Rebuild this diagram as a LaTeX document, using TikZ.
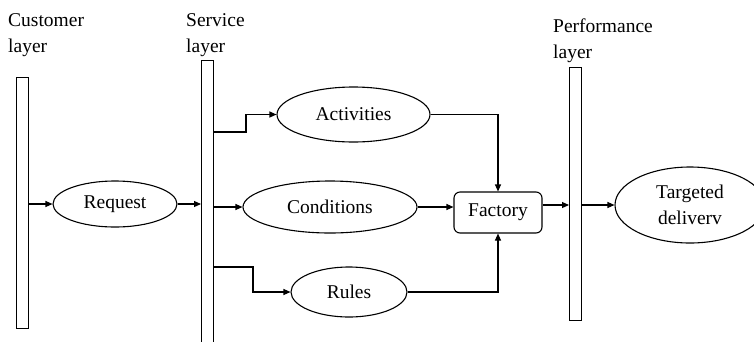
\documentclass[tikz,border=0pt]{standalone}
\usepackage{fontspec}
\setmainfont{Liberation Serif}
\usetikzlibrary{arrows.meta,shapes.geometric}
\begin{document}
\begin{tikzpicture}[x=1pt,y=-1pt,
  every node/.style={font=\fontsize{19.5}{26}\selectfont},
  lbl/.style={anchor=base west,inner sep=0},
  layerbar/.style={draw,rectangle,line width=1.1pt,inner sep=0,minimum width=12pt,anchor=north west},
  ell/.style={draw,ellipse,line width=1.1pt,inner sep=0},
  box/.style={draw,rectangle,rounded corners=6pt,line width=1.1pt,inner sep=0},
  arr/.style={line width=1.1pt,-{Triangle[length=7pt,width=6pt]}}
]
\useasboundingbox (0,0) rectangle (754,341);

% layer captions
\node[lbl] (c1) at (8,26) {Customer};
\node[lbl] (c2) at (8,52) {layer};
\node[lbl] (s1) at (186,26) {Service};
\node[lbl] (s2) at (186,52) {layer};
\node[lbl] (p1) at (553,32) {Performance};
\node[lbl] (p2) at (553,58) {layer};

% layer bars
\node[layerbar,minimum height=251pt] (cbar) at (16,77) {};
\node[layerbar,minimum height=290pt] (sbar) at (201,60) {};
\node[layerbar,minimum height=253pt] (pbar) at (569,67) {};

% process elements
\node[ell,minimum width=124pt,minimum height=46pt] (req) at (115,204) {Request};
\node[ell,minimum width=153pt,minimum height=55pt] (act) at (353.5,114.5) {Activities};
\node[ell,minimum width=174pt,minimum height=52pt] (cond) at (330,207) {Conditions};
\node[ell,minimum width=116pt,minimum height=50pt] (rules) at (349,292) {Rules};
\node[box,minimum width=88pt,minimum height=41pt] (fac) at (498,212.5) {Factory};
\node[ell,minimum width=150pt,minimum height=76pt,align=center] (tgt) at (690,205) {Targeted\\deliverv};

% bend points of the connectors
\coordinate (a1) at (246,132);
\coordinate (r1) at (253,267);
\coordinate (f1) at (542,205);

% connectors
\draw[arr] (cbar.east |- req.west) -- (req.west);
\draw[arr] (req.east) -- (sbar.west |- req.east);
\draw[arr] (sbar.east |- a1) -- (a1) |- (act.west);
\draw[arr] (sbar.east |- cond.west) -- (cond.west);
\draw[arr] (sbar.east |- r1) -- (r1) |- (rules.west);
\draw[arr] (act.east) -| (fac.north);
\draw[arr] (cond.east) -- (fac.west |- cond.east);
\draw[arr] (rules.east) -| (fac.south);
\draw[arr] (fac.east |- f1) -- (pbar.west |- f1);
\draw[arr] (pbar.east |- f1) -- (tgt.west |- f1);
\end{tikzpicture}
\end{document}
